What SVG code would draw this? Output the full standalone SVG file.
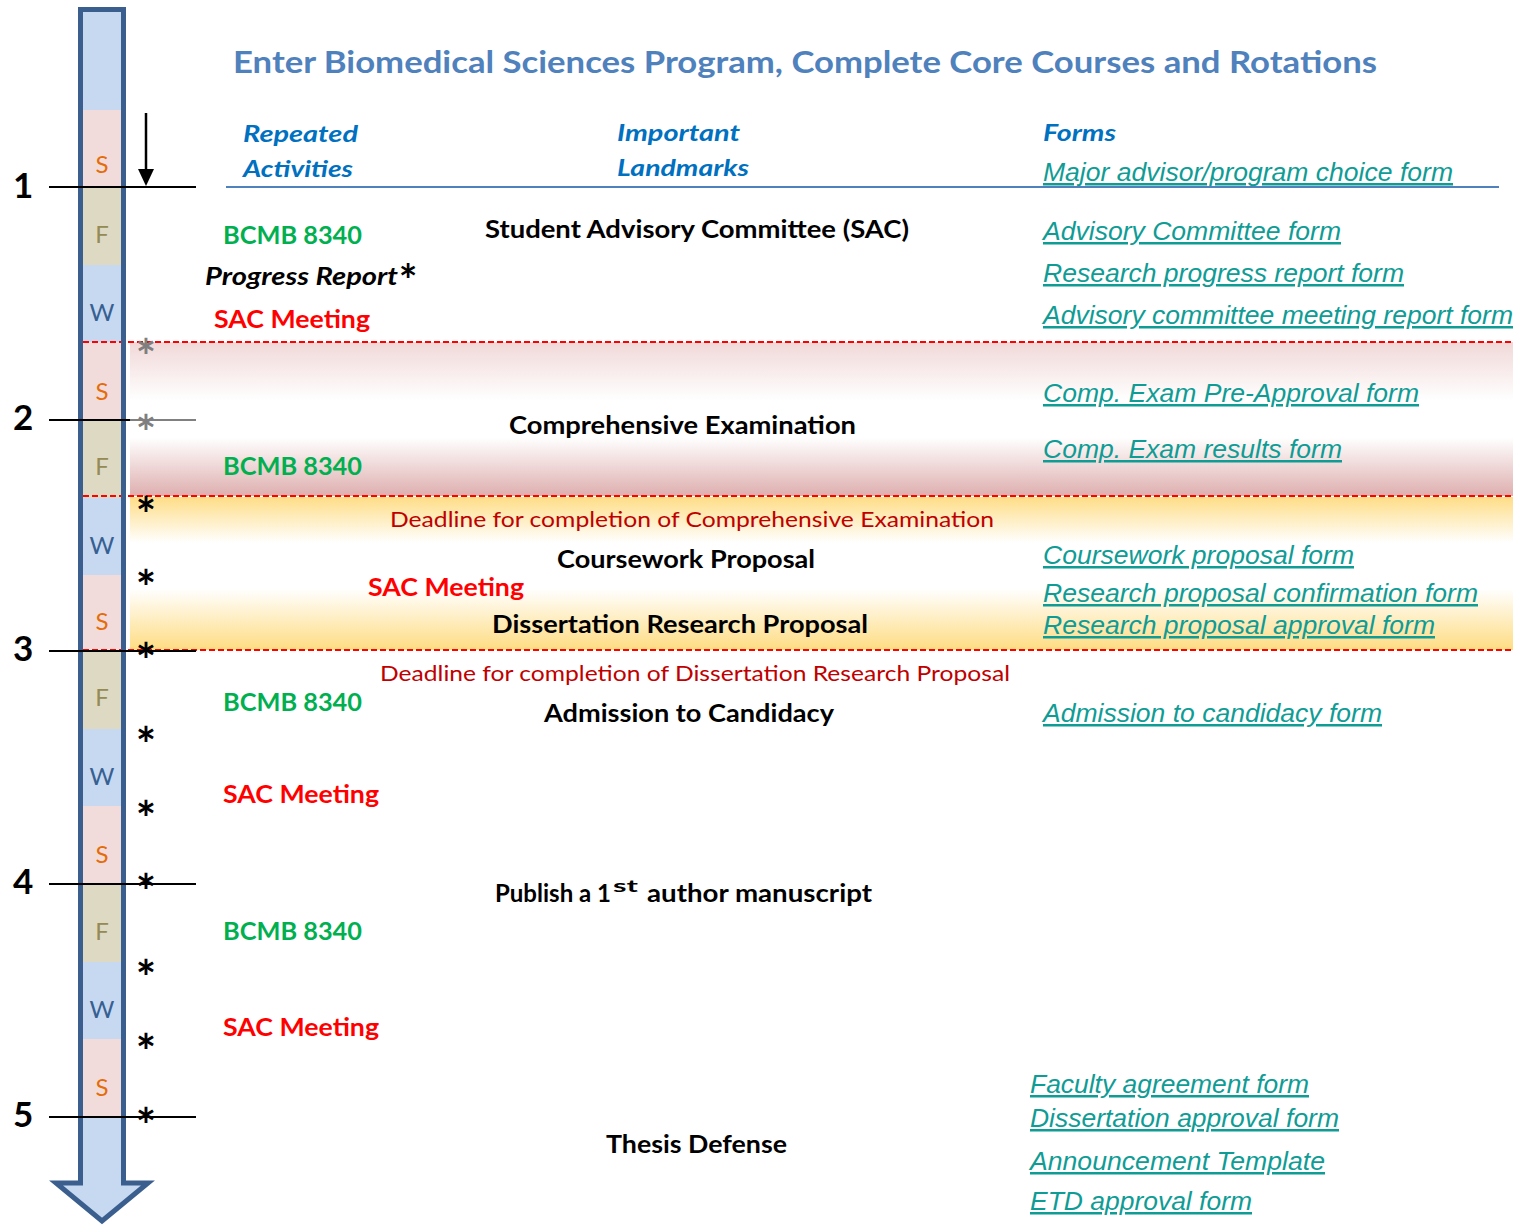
<svg xmlns="http://www.w3.org/2000/svg" width="1524" height="1225" viewBox="0 0 1524 1225">
<defs>
<style>
.b{font-family:Lato,"Open Sans","Liberation Sans",sans-serif;font-weight:bold;}
.r{font-family:Lato,"Open Sans","Liberation Sans",sans-serif;}
.lm{font-size:24px;fill:#000;}
.grn{font-size:24px;fill:#00b050;}
.red{font-size:24px;fill:#ff0000;}
.dl{font-size:22px;fill:#c00000;}
.hd{font-size:23px;fill:#0070c0;font-style:italic;}
.form{font-family:"Liberation Sans",Arial,sans-serif;font-style:italic;font-size:25px;fill:#0f9c95;text-decoration:underline;}
.num{font-size:35px;fill:#000;}
.sfw{font-size:24px;text-anchor:middle;}
.ast{font-family:Lato,"Open Sans",sans-serif;font-weight:bold;font-size:48px;text-anchor:middle;fill:#000;}
.dash{stroke:#ff0000;stroke-width:1.8;stroke-dasharray:6 3;fill:none;}
.tick{stroke:#000;stroke-width:2;}
</style>
<linearGradient id="gPink" x1="0" y1="0" x2="0" y2="1">
<stop offset="0" stop-color="#f1d8d8"/>
<stop offset="0.38" stop-color="#ffffff"/>
<stop offset="0.62" stop-color="#ffffff"/>
<stop offset="1" stop-color="#deaeae"/>
</linearGradient>
<linearGradient id="gYel" x1="0" y1="0" x2="0" y2="1">
<stop offset="0" stop-color="#fedd86"/>
<stop offset="0.3" stop-color="#ffffff"/>
<stop offset="0.6" stop-color="#ffffff"/>
<stop offset="1" stop-color="#fedc82"/>
</linearGradient>
</defs>

<g id="timeline-arrow">
<path d="M80.5,9.5 H123.5 V1183 H148 L102,1221 L56,1183 H80.5 Z" fill="#c6d9f1"/>
<rect x="83" y="110" width="38" height="77" fill="#f2dcdb"/>
<rect x="83" y="187" width="38" height="78" fill="#ddd9c3"/>
<rect x="83" y="342" width="38" height="78" fill="#f2dcdb"/>
<rect x="83" y="420" width="38" height="78" fill="#ddd9c3"/>
<rect x="83" y="575" width="38" height="76" fill="#f2dcdb"/>
<rect x="83" y="651" width="38" height="78" fill="#ddd9c3"/>
<rect x="83" y="806" width="38" height="78" fill="#f2dcdb"/>
<rect x="83" y="884" width="38" height="78" fill="#ddd9c3"/>
<rect x="83" y="1039" width="38" height="78" fill="#f2dcdb"/>
</g>

<g id="bands">
<rect x="130" y="342" width="1383" height="154" fill="url(#gPink)"/>
<rect x="130" y="497" width="1383" height="153" fill="url(#gYel)"/>
<line class="dash" x1="83" y1="342" x2="1513" y2="342"/>
<line class="dash" x1="83" y1="496" x2="1513" y2="496"/>
<line class="dash" x1="83" y1="650" x2="1513" y2="650"/>
</g>

<g id="arrow-outline">
<path d="M80.5,9.5 H123.5 V1183 H148 L102,1221 L56,1183 H80.5 Z" fill="none" stroke="#3a5f8f" stroke-width="5" stroke-linejoin="miter"/>
</g>

<g id="semester-labels">
<text class="r sfw" x="102" y="173" fill="#e46c0a">S</text>
<text class="r sfw" x="102" y="243" fill="#948a54">F</text>
<text class="r sfw" x="102" y="321" fill="#376092">W</text>
<text class="r sfw" x="102" y="400" fill="#e46c0a">S</text>
<text class="r sfw" x="102" y="475" fill="#948a54">F</text>
<text class="r sfw" x="102" y="554" fill="#376092">W</text>
<text class="r sfw" x="102" y="630" fill="#e46c0a">S</text>
<text class="r sfw" x="102" y="706" fill="#948a54">F</text>
<text class="r sfw" x="102" y="785" fill="#376092">W</text>
<text class="r sfw" x="102" y="863" fill="#e46c0a">S</text>
<text class="r sfw" x="102" y="940" fill="#948a54">F</text>
<text class="r sfw" x="102" y="1018" fill="#376092">W</text>
<text class="r sfw" x="102" y="1096" fill="#e46c0a">S</text>
</g>

<g id="year-markers">
<line class="tick" x1="49" y1="187" x2="196" y2="187"/>
<line class="tick" x1="49" y1="420" x2="130" y2="420"/>
<line x1="130" y1="420" x2="196" y2="420" stroke="#808080" stroke-width="2"/>
<line class="tick" x1="49" y1="651" x2="196" y2="651"/>
<line class="tick" x1="49" y1="884" x2="196" y2="884"/>
<line class="tick" x1="49" y1="1117" x2="196" y2="1117"/>
<text class="b num" x="13" y="198">1</text>
<text class="b num" x="13" y="430">2</text>
<text class="b num" x="13" y="661">3</text>
<text class="b num" x="13" y="894">4</text>
<text class="b num" x="13" y="1127">5</text>
</g>

<g id="start-arrow">
<line x1="146" y1="113" x2="146" y2="172" stroke="#000" stroke-width="2.5"/>
<polygon points="138,169 154,169 146,186" fill="#000"/>
</g>

<g id="asterisks">
<text class="ast" x="146" y="374" style="fill:#7f7f7f">*</text>
<text class="ast" x="146" y="450" style="fill:#7f7f7f">*</text>
<text class="ast" x="146" y="532">*</text>
<text class="ast" x="146" y="605">*</text>
<text class="ast" x="146" y="678">*</text>
<text class="ast" x="146" y="762">*</text>
<text class="ast" x="146" y="836">*</text>
<text class="ast" x="146" y="909">*</text>
<text class="ast" x="146" y="995">*</text>
<text class="ast" x="146" y="1069">*</text>
<text class="ast" x="146" y="1143">*</text>
</g>

<g id="title">
<text class="b" x="233" y="73" font-size="30" fill="#4f81bd" textLength="1144" lengthAdjust="spacingAndGlyphs">Enter Biomedical Sciences Program, Complete Core Courses and Rotations</text>
</g>

<g id="headers">
<text class="b hd" x="243" y="142" textLength="115" lengthAdjust="spacingAndGlyphs">Repeated</text>
<text class="b hd" x="243" y="177" textLength="110" lengthAdjust="spacingAndGlyphs">Activities</text>
<text class="b hd" x="617" y="141" textLength="123" lengthAdjust="spacingAndGlyphs">Important</text>
<text class="b hd" x="617" y="176" textLength="132" lengthAdjust="spacingAndGlyphs">Landmarks</text>
<text class="b hd" x="1043" y="141" textLength="73" lengthAdjust="spacingAndGlyphs">Forms</text>
<line x1="226" y1="187" x2="1499" y2="187" stroke="#4f81bd" stroke-width="2"/>
</g>

<g id="repeated-activities">
<text class="b grn" x="223" y="244" textLength="139" lengthAdjust="spacingAndGlyphs">BCMB 8340</text>
<text class="b lm" x="205" y="285" font-style="italic"><tspan textLength="193" lengthAdjust="spacingAndGlyphs">Progress Report</tspan><tspan x="408" y="296" font-size="44" font-style="normal" text-anchor="middle">*</tspan></text>
<text class="b red" x="214" y="328" textLength="156" lengthAdjust="spacingAndGlyphs">SAC Meeting</text>
<text class="b grn" x="223" y="475" textLength="139" lengthAdjust="spacingAndGlyphs">BCMB 8340</text>
<text class="b red" x="368" y="596" textLength="156" lengthAdjust="spacingAndGlyphs">SAC Meeting</text>
<text class="b grn" x="223" y="711" textLength="139" lengthAdjust="spacingAndGlyphs">BCMB 8340</text>
<text class="b red" x="223" y="803" textLength="156" lengthAdjust="spacingAndGlyphs">SAC Meeting</text>
<text class="b grn" x="223" y="940" textLength="139" lengthAdjust="spacingAndGlyphs">BCMB 8340</text>
<text class="b red" x="223" y="1036" textLength="156" lengthAdjust="spacingAndGlyphs">SAC Meeting</text>
</g>

<g id="landmarks">
<text class="b lm" x="485" y="238" textLength="424" lengthAdjust="spacingAndGlyphs">Student Advisory Committee (SAC)</text>
<text class="b lm" x="509" y="434" textLength="347" lengthAdjust="spacingAndGlyphs">Comprehensive Examination</text>
<text class="r dl" x="390" y="527" textLength="604" lengthAdjust="spacingAndGlyphs">Deadline for completion of Comprehensive Examination</text>
<text class="b lm" x="557" y="568" textLength="258" lengthAdjust="spacingAndGlyphs">Coursework Proposal</text>
<text class="b lm" x="492" y="633" textLength="376" lengthAdjust="spacingAndGlyphs">Dissertation Research Proposal</text>
<text class="r dl" x="380" y="681" textLength="630" lengthAdjust="spacingAndGlyphs">Deadline for completion of Dissertation Research Proposal</text>
<text class="b lm" x="544" y="722" textLength="290" lengthAdjust="spacingAndGlyphs">Admission to Candidacy</text>
<text class="b lm" x="495" y="902"><tspan textLength="116" lengthAdjust="spacingAndGlyphs">Publish a 1</tspan><tspan x="613" y="892" font-size="17" textLength="25" lengthAdjust="spacingAndGlyphs">st</tspan><tspan x="647" y="902" textLength="225" lengthAdjust="spacingAndGlyphs">author manuscript</tspan></text>
<text class="b lm" x="606" y="1153" textLength="181" lengthAdjust="spacingAndGlyphs">Thesis Defense</text>
</g>

<g id="forms">
<text class="form" x="1043" y="181" textLength="410" lengthAdjust="spacingAndGlyphs">Major advisor/program choice form</text>
<text class="form" x="1043" y="240" textLength="298" lengthAdjust="spacingAndGlyphs">Advisory Committee form</text>
<text class="form" x="1043" y="282" textLength="361" lengthAdjust="spacingAndGlyphs">Research progress report form</text>
<text class="form" x="1043" y="324" textLength="470" lengthAdjust="spacingAndGlyphs">Advisory committee meeting report form</text>
<text class="form" x="1043" y="402" textLength="376" lengthAdjust="spacingAndGlyphs">Comp. Exam Pre-Approval form</text>
<text class="form" x="1043" y="458" textLength="299" lengthAdjust="spacingAndGlyphs">Comp. Exam results form</text>
<text class="form" x="1043" y="564" textLength="311" lengthAdjust="spacingAndGlyphs">Coursework proposal form</text>
<text class="form" x="1043" y="602" textLength="435" lengthAdjust="spacingAndGlyphs">Research proposal confirmation form</text>
<text class="form" x="1043" y="634" textLength="392" lengthAdjust="spacingAndGlyphs">Research proposal approval form</text>
<text class="form" x="1043" y="722" textLength="339" lengthAdjust="spacingAndGlyphs">Admission to candidacy form</text>
<text class="form" x="1030" y="1093" textLength="279" lengthAdjust="spacingAndGlyphs">Faculty agreement form</text>
<text class="form" x="1030" y="1127" textLength="309" lengthAdjust="spacingAndGlyphs">Dissertation approval form</text>
<text class="form" x="1030" y="1170" textLength="295" lengthAdjust="spacingAndGlyphs">Announcement Template</text>
<text class="form" x="1030" y="1210" textLength="222" lengthAdjust="spacingAndGlyphs">ETD approval form</text>
</g>
</svg>
